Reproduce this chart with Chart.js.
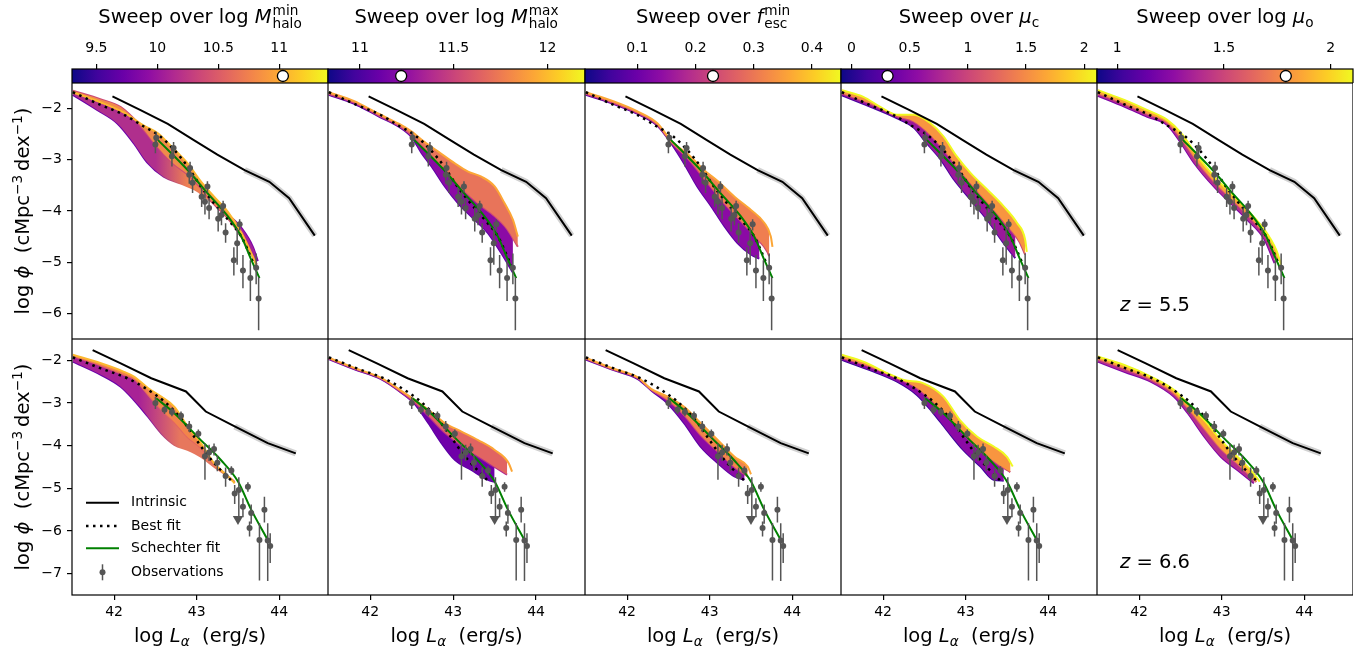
<!DOCTYPE html>
<html>
<head>
<meta charset="utf-8">
<script src="https://cdn.jsdelivr.net/npm/chart.js@4.4.0/dist/chart.umd.min.js"></script>
<style>
  body { margin: 0; width: 1368px; height: 657px; position: relative; overflow: hidden; background: #fff; font-family: 'DejaVu Sans', sans-serif; }
  canvas { position: absolute; }
  .txt { position: absolute; white-space: nowrap; transform: translate(-50%, -50%); color: #000; font-size: 19.5px; line-height: 1.2; }
  .rot { transform: translate(-50%, -50%) rotate(-90deg); }
  .stk { display: inline-flex; flex-direction: column; font-size: 0.7em; line-height: 0.95; vertical-align: middle; margin-left: 1px; }
  sub { font-size: 0.7em; vertical-align: -0.25em; line-height: 0; }
  sup { font-size: 0.7em; vertical-align: 0.55em; line-height: 0; }
</style>
</head>
<body>
<script>
// ---- axes ----
const lumTicks = [42, 43, 44];
const phiTicksTop = [-6, -5, -4, -3, -2];
const phiTicksBot = [-7, -6, -5, -4, -3, -2];

// ---- observations, z = 5.5 ----
const obsTopX = [42.50, 42.51, 42.70, 42.72, 42.91, 42.92, 42.95, 43.06, 43.10, 43.13, 43.15, 43.26, 43.30, 43.32, 43.35, 43.45, 43.49, 43.52, 43.56, 43.65, 43.72, 43.75];
const obsTopY = [-2.70, -2.57, -2.93, -2.77, -3.29, -3.16, -3.45, -3.72, -3.82, -3.52, -3.94, -4.15, -4.08, -3.90, -4.42, -4.96, -4.63, -4.26, -5.16, -5.31, -5.11, -5.71];
const obsTopErrLo = [0.17, 0.15, 0.2, 0.12, 0.18, 0.14, 0.2, 0.2, 0.25, 0.12, 0.22, 0.25, 0.2, 0.12, 0.2, 0.3, 0.42, 0.12, 0.35, 0.45, 0.32, 0.62];
const obsTopErrHi = [0.15, 0.12, 0.18, 0.12, 0.16, 0.12, 0.18, 0.17, 0.2, 0.1, 0.2, 0.22, 0.18, 0.1, 0.18, 0.25, 0.3, 0.1, 0.3, 0.35, 0.28, 0.42];

// ---- observations, z = 6.6 ----
const obsBotX = [42.50, 42.61, 42.70, 42.81, 42.91, 43.02, 43.10, 43.15, 43.21, 43.25, 43.35, 43.42, 43.46, 43.51, 43.56, 43.62, 43.64, 43.66, 43.76, 43.82, 43.86, 43.89];
const obsBotY = [-3.00, -3.16, -3.21, -3.30, -3.55, -3.72, -4.25, -4.16, -4.08, -4.40, -4.71, -4.58, -5.12, -5.04, -5.43, -4.96, -5.93, -5.58, -6.21, -5.50, -6.22, -6.35];
const obsBotErrLo = [0.14, 0.1, 0.1, 0.1, 0.13, 0.1, 0.55, 0.2, 0.15, 0.2, 0.25, 0.1, 0.25, 0.7, 0.25, 0.12, 0.2, 0.25, 0.95, 0.3, 0.95, 0.4];
const obsBotErrHi = [0.14, 0.1, 0.1, 0.1, 0.13, 0.1, 0.3, 0.18, 0.13, 0.18, 0.2, 0.1, 0.2, 0.3, 0.2, 0.1, 0.15, 0.2, 0.4, 0.3, 0.4, 0.3];
const upperLimBot = [[43.5, -5.72]];

// ---- model curves ----
const intrinsicTop = [[41.98, -1.76], [42.32, -2.03], [42.65, -2.30], [42.97, -2.62], [43.25, -2.90], [43.58, -3.20], [43.88, -3.43], [44.12, -3.75], [44.43, -4.48]];
const intrinsicBot = [[41.74, -1.76], [42.08, -2.07], [42.45, -2.42], [42.87, -2.73], [43.11, -3.20], [43.46, -3.55], [43.86, -3.94], [44.20, -4.18]];
const bestTop = [[41.5, -1.68], [41.84, -1.93], [42.12, -2.12], [42.36, -2.35], [42.53, -2.51], [42.73, -2.81], [42.89, -3.13], [43.05, -3.52], [43.21, -3.85], [43.38, -4.17], [43.54, -4.50], [43.66, -4.92], [43.70, -5.08]];
const bestBot = [[41.5, -1.93], [41.84, -2.19], [42.16, -2.42], [42.41, -2.69], [42.61, -2.97], [42.81, -3.36], [42.97, -3.79], [43.13, -4.22], [43.29, -4.57], [43.44, -4.86]];
const schechterTop = [[42.53, -2.61], [42.89, -3.20], [43.13, -3.65], [43.38, -4.11], [43.54, -4.50], [43.66, -4.95], [43.76, -5.31]];
const schechterBot = [[42.51, -2.89], [42.73, -3.24], [43.05, -3.87], [43.29, -4.33], [43.50, -4.84], [43.66, -5.50], [43.86, -6.21]];

// ---- parameter sweeps (lowest, middle, highest value), z = 5.5 ----
const mminTopLo = [[41.5, -1.73], [41.8, -2.03], [42.04, -2.29], [42.24, -2.68], [42.4, -3.05], [42.6, -3.33], [42.8, -3.46], [43.0, -3.6], [43.2, -3.85], [43.4, -4.1], [43.55, -4.35], [43.68, -4.7], [43.74, -4.98]];
const mminTopMid = [[41.5, -1.65], [41.84, -1.82], [42.08, -1.97], [42.3, -2.3], [42.5, -2.7], [42.7, -3.05], [42.9, -3.3], [43.05, -3.55], [43.2, -3.85], [43.38, -4.15], [43.54, -4.5], [43.68, -4.9], [43.73, -5.05]];
const mminTopHi = [[41.5, -1.68], [41.84, -1.88], [42.12, -2.08], [42.36, -2.33], [42.53, -2.48], [42.73, -2.8], [42.89, -3.07], [43.05, -3.42], [43.21, -3.72], [43.38, -4.02], [43.54, -4.42], [43.66, -4.82], [43.72, -5.05]];
const mmaxTopLo = [[41.5, -1.73], [41.8, -1.9], [42.1, -2.15], [42.35, -2.36], [42.5, -2.56], [42.62, -2.87], [42.74, -3.13], [42.9, -3.52], [43.06, -3.85], [43.22, -4.11], [43.42, -4.43], [43.58, -4.82], [43.72, -5.2]];
const mmaxTopMid = [[41.5, -1.71], [41.8, -1.88], [42.1, -2.13], [42.35, -2.34], [42.5, -2.52], [42.7, -2.85], [42.9, -3.2], [43.1, -3.55], [43.3, -3.85], [43.5, -4.1], [43.65, -4.35], [43.78, -4.7]];
const mmaxTopHi = [[41.5, -1.68], [41.8, -1.85], [42.1, -2.1], [42.35, -2.3], [42.5, -2.45], [42.62, -2.61], [42.82, -2.84], [43.02, -3.07], [43.18, -3.23], [43.34, -3.33], [43.5, -3.52], [43.62, -3.85], [43.72, -4.17], [43.78, -4.5]];
const fescTopLo = [[41.5, -1.73], [41.84, -1.91], [42.12, -2.1], [42.37, -2.34], [42.53, -2.67], [42.69, -3.07], [42.85, -3.52], [43.02, -3.91], [43.18, -4.3], [43.34, -4.63], [43.5, -4.85], [43.6, -4.93]];
const fescTopMid = [[41.5, -1.71], [41.84, -1.89], [42.12, -2.08], [42.37, -2.32], [42.53, -2.65], [42.75, -3.0], [42.95, -3.4], [43.15, -3.8], [43.35, -4.15], [43.55, -4.5], [43.7, -4.8], [43.72, -4.88]];
const fescTopHi = [[41.5, -1.68], [41.84, -1.86], [42.12, -2.05], [42.37, -2.29], [42.53, -2.62], [42.77, -2.94], [42.93, -3.2], [43.1, -3.42], [43.3, -3.72], [43.5, -3.98], [43.66, -4.23], [43.74, -4.5], [43.76, -4.7]];
const mucTopLo = [[41.5, -1.74], [41.84, -1.96], [42.17, -2.19], [42.37, -2.37], [42.53, -2.68], [42.7, -3.0], [42.86, -3.39], [43.06, -3.78], [43.26, -4.17], [43.46, -4.63], [43.6, -4.92]];
const mucTopMid = [[41.5, -1.7], [41.84, -1.9], [42.17, -2.15], [42.37, -2.25], [42.55, -2.48], [42.72, -2.78], [42.9, -3.15], [43.08, -3.5], [43.28, -3.87], [43.48, -4.25], [43.65, -4.6], [43.72, -4.85]];
const mucTopHi = [[41.5, -1.64], [41.76, -1.77], [41.96, -1.96], [42.17, -2.12], [42.37, -2.12], [42.57, -2.28], [42.73, -2.54], [42.89, -2.93], [43.06, -3.26], [43.26, -3.58], [43.46, -3.91], [43.62, -4.23], [43.72, -4.56], [43.74, -4.8]];
const muoTopLo = [[41.5, -1.75], [41.82, -1.96], [42.1, -2.16], [42.34, -2.32], [42.51, -2.68], [42.67, -3.07], [42.91, -3.53], [43.11, -3.85], [43.31, -4.17], [43.52, -4.56], [43.64, -5.02]];
const muoTopMid = [[41.5, -1.7], [41.82, -1.9], [42.1, -2.1], [42.34, -2.27], [42.51, -2.58], [42.69, -3.0], [42.91, -3.43], [43.11, -3.75], [43.31, -4.07], [43.52, -4.46], [43.68, -4.95]];
const muoTopHi = [[41.5, -1.64], [41.82, -1.83], [42.1, -2.03], [42.34, -2.22], [42.51, -2.48], [42.71, -2.94], [42.91, -3.33], [43.11, -3.65], [43.31, -3.98], [43.52, -4.37], [43.66, -4.76], [43.72, -5.05]];

// ---- parameter sweeps, z = 6.6 ----
const mminBotLo = [[41.5, -2.03], [41.84, -2.34], [42.08, -2.62], [42.24, -2.93], [42.41, -3.32], [42.57, -3.71], [42.73, -3.98], [42.89, -4.1], [43.05, -4.26], [43.21, -4.49], [43.38, -4.72], [43.46, -4.85]];
const mminBotMid = [[41.5, -1.9], [41.84, -2.12], [42.1, -2.32], [42.25, -2.45], [42.41, -2.8], [42.57, -3.15], [42.73, -3.45], [42.89, -3.8], [43.05, -4.05], [43.21, -4.42], [43.38, -4.72], [43.46, -4.87]];
const mminBotHi = [[41.5, -1.87], [41.84, -2.07], [42.12, -2.27], [42.24, -2.38], [42.41, -2.65], [42.57, -2.85], [42.73, -3.09], [42.89, -3.55], [43.05, -3.94], [43.21, -4.41], [43.38, -4.72], [43.46, -4.88]];
const mmaxBotLo = [[41.5, -1.97], [41.81, -2.21], [42.13, -2.44], [42.37, -2.75], [42.53, -3.01], [42.7, -3.47], [42.86, -3.94], [43.02, -4.33], [43.22, -4.57], [43.42, -4.8], [43.5, -4.85]];
const mmaxBotMid = [[41.5, -1.96], [41.81, -2.2], [42.13, -2.43], [42.37, -2.74], [42.53, -2.98], [42.7, -3.3], [42.9, -3.7], [43.1, -4.0], [43.3, -4.25], [43.5, -4.5], [43.65, -4.68]];
const mmaxBotHi = [[41.5, -1.94], [41.81, -2.18], [42.13, -2.41], [42.37, -2.71], [42.5, -2.88], [42.7, -3.16], [42.9, -3.47], [43.1, -3.67], [43.3, -3.87], [43.5, -4.1], [43.67, -4.41], [43.71, -4.61]];
const fescBotLo = [[41.5, -1.98], [41.81, -2.21], [42.13, -2.44], [42.3, -2.72], [42.49, -3.01], [42.69, -3.47], [42.89, -4.02], [43.1, -4.41], [43.3, -4.72], [43.42, -4.8]];
const fescBotMid = [[41.5, -1.96], [41.81, -2.2], [42.13, -2.42], [42.3, -2.7], [42.49, -2.93], [42.69, -3.28], [42.89, -3.75], [43.1, -4.14], [43.3, -4.5], [43.46, -4.72]];
const fescBotHi = [[41.5, -1.94], [41.81, -2.18], [42.13, -2.4], [42.29, -2.67], [42.49, -2.85], [42.69, -3.09], [42.89, -3.47], [43.1, -3.87], [43.3, -4.26], [43.46, -4.49], [43.5, -4.67]];
const mucBotLo = [[41.5, -1.99], [41.84, -2.23], [42.17, -2.5], [42.41, -2.81], [42.61, -3.24], [42.77, -3.63], [42.97, -4.1], [43.18, -4.49], [43.34, -4.8], [43.46, -4.82]];
const mucBotMid = [[41.5, -1.94], [41.84, -2.15], [42.17, -2.42], [42.41, -2.65], [42.61, -2.98], [42.8, -3.35], [43.0, -3.78], [43.2, -4.15], [43.4, -4.45], [43.54, -4.62]];
const mucBotHi = [[41.5, -1.87], [41.76, -2.03], [42.05, -2.3], [42.25, -2.46], [42.49, -2.54], [42.73, -2.85], [42.93, -3.4], [43.14, -3.79], [43.34, -4.02], [43.5, -4.26], [43.57, -4.49]];
const muoBotLo = [[41.5, -2.03], [41.82, -2.27], [42.14, -2.5], [42.42, -2.85], [42.59, -3.24], [42.79, -3.79], [42.99, -4.26], [43.19, -4.57], [43.39, -4.88]];
const muoBotMid = [[41.5, -1.97], [41.82, -2.19], [42.14, -2.44], [42.42, -2.77], [42.59, -3.12], [42.79, -3.6], [42.99, -4.07], [43.19, -4.42], [43.42, -4.85]];
const muoBotHi = [[41.5, -1.91], [41.82, -2.11], [42.14, -2.38], [42.42, -2.69], [42.59, -3.01], [42.79, -3.4], [42.99, -3.87], [43.19, -4.26], [43.35, -4.57], [43.46, -4.84]];

// ---- colour bars ----
const cbMin = [9.3, 10.83, 0.01, -0.09, 0.905];
const cbMax = [11.4, 12.2, 0.45, 2.11, 2.105];
const cbTicks = [[9.5, 10, 10.5, 11], [11, 11.5, 12], [0.1, 0.2, 0.3, 0.4], [0, 0.5, 1, 1.5, 2], [1, 1.5, 2]];
const cbBest = [11.03, 11.22, 0.23, 0.31, 1.79];
const plasma = ['#0d0887', '#41049d', '#6a00a8', '#8f0da4', '#b12a90', '#cc4778', '#e16462', '#f2844b', '#fca636', '#fcce25', '#f0f921'];

const legendLabels = ['Intrinsic', 'Best fit', 'Schechter fit', 'Observations'];

// layout in page pixels
const colLeft = [72, 328, 585, 841, 1097];
const colWidth = [256, 257, 256, 256, 256];
const rowTop = [83, 339];
const FONT = "'DejaVu Sans', sans-serif";
const GREY = '#555555';

// line colours [lo, mid, hi]; fill colours [lo-mid, mid-hi];
// optional loLine / loFill: colour stops along x for the lowest curve and its fill
const sweeps = [
  [{ lo: mminTopLo, mid: mminTopMid, hi: mminTopHi, line: ['#6a00a8', '#cc4778', '#fcb82f'], fill: ['#b02f8d', '#f08a4b'],
     loLine: [[42.5, '#6a00a8'], [42.85, '#ea7a56'], [43.3, '#ea7a56'], [43.5, '#7a02a8']],
     loFill: [[42.5, '#b02f8d'], [42.9, '#ef8350'], [43.3, '#ef8350'], [43.55, '#a3229a']] },
   { lo: mmaxTopLo, mid: mmaxTopMid, hi: mmaxTopHi, line: ['#5c01a6', '#cc4778', '#fca636'], fill: ['#8b0aa5', '#e8745a'] },
   { lo: fescTopLo, mid: fescTopMid, hi: fescTopHi, line: ['#5c01a6', '#cc4778', '#fca636'], fill: ['#8b0aa5', '#ef7e50'] },
   { lo: mucTopLo, mid: mucTopMid, hi: mucTopHi, line: ['#4b03a1', '#cc4778', '#f0f921'], fill: ['#9a179b', '#f89540'] },
   { lo: muoTopLo, mid: muoTopMid, hi: muoTopHi, line: ['#7e03a8', '#e16462', '#f0f921'], fill: ['#b52f8c', '#fca636'] }],
  [{ lo: mminBotLo, mid: mminBotMid, hi: mminBotHi, line: ['#6a00a8', '#e16462', '#fcb82f'], fill: ['#a82296', '#f2844b'],
     loLine: [[42.35, '#6a00a8'], [42.8, '#e4765f']],
     loFill: [[42.3, '#a82296'], [42.8, '#e7775d']] },
   { lo: mmaxBotLo, mid: mmaxBotMid, hi: mmaxBotHi, line: ['#5c01a6', '#b12a90', '#fca636'], fill: ['#6f00a8', '#e16462'] },
   { lo: fescBotLo, mid: fescBotMid, hi: fescBotHi, line: ['#5c01a6', '#cc4778', '#fca636'], fill: ['#8b0aa5', '#f2844b'] },
   { lo: mucBotLo, mid: mucBotMid, hi: mucBotHi, line: ['#3a049a', '#cc4778', '#f0f921'], fill: ['#8b0aa5', '#f89540'] },
   { lo: muoBotLo, mid: muoBotMid, hi: muoBotHi, line: ['#7e03a8', '#e16462', '#f0f921'], fill: ['#b52f8c', '#fca636'] }]
];

const pts = arr => arr.map(p => ({ x: p[0], y: p[1] }));
const minus = v => String(v).replace('-', '\u2212');

// horizontal gradient whose stops sit at given luminosities
function alongX(stops) {
  return ctx => {
    const chart = ctx.chart, xs = chart.scales.x;
    if (!xs || !chart.chartArea) return stops[0][1];
    const x0 = xs.getPixelForValue(xs.min), x1 = xs.getPixelForValue(xs.max);
    const g = chart.ctx.createLinearGradient(x0, 0, x1, 0);
    stops.forEach(s => g.addColorStop((xs.getPixelForValue(s[0]) - x0) / (x1 - x0), s[1]));
    return g;
  };
}

function errorBars(xs, ys, lo, hi) {
  const out = [];
  xs.forEach((x, i) => {
    out.push({ x: x, y: ys[i] - lo[i] }, { x: x, y: ys[i] + hi[i] }, { x: x, y: null });
  });
  return out;
}

const framePlugin = {
  id: 'frame',
  afterDraw(chart) {
    const a = chart.chartArea, ctx = chart.ctx;
    ctx.save();
    ctx.strokeStyle = '#000';
    ctx.lineWidth = 1.2;
    ctx.strokeRect(a.left, a.top, a.right - a.left, a.bottom - a.top);
    ctx.restore();
  }
};

const legendPlugin = {
  id: 'legendLines',
  afterDraw(chart) {
    const ctx = chart.ctx;
    const rows = [163.7, 187, 209.3, 233.3];
    ctx.save();
    ctx.lineWidth = 2;
    ctx.strokeStyle = '#000';
    ctx.beginPath(); ctx.moveTo(86, rows[0]); ctx.lineTo(119, rows[0]); ctx.stroke();
    ctx.setLineDash([2.5, 4.5]); ctx.lineWidth = 2.5;
    ctx.beginPath(); ctx.moveTo(86, rows[1]); ctx.lineTo(119, rows[1]); ctx.stroke();
    ctx.setLineDash([]); ctx.lineWidth = 2; ctx.strokeStyle = '#008000';
    ctx.beginPath(); ctx.moveTo(86, rows[2]); ctx.lineTo(119, rows[2]); ctx.stroke();
    ctx.strokeStyle = GREY; ctx.fillStyle = GREY; ctx.lineWidth = 1.5;
    ctx.beginPath(); ctx.moveTo(102.5, rows[3] - 8); ctx.lineTo(102.5, rows[3] + 8); ctx.stroke();
    ctx.beginPath(); ctx.arc(102.5, rows[3], 3, 0, Math.PI * 2); ctx.fill();
    ctx.fillStyle = '#000';
    ctx.font = '14px ' + FONT;
    ctx.textBaseline = 'middle';
    legendLabels.forEach((t, i) => ctx.fillText(t, 131, rows[i]));
    ctx.restore();
  }
};

function makePanel(row, col) {
  const wy = col === 0 ? 72 : 0;
  const hx = row === 1 ? 62 : 0;
  const w = colWidth[col];
  const cv = document.createElement('canvas');
  cv.width = w + wy;
  cv.height = 256 + hx;
  cv.style.left = (colLeft[col] - wy) + 'px';
  cv.style.top = rowTop[row] + 'px';
  document.body.appendChild(cv);

  const top = row === 0;
  const s = sweeps[row][col];
  const oX = top ? obsTopX : obsBotX, oY = top ? obsTopY : obsBotY;
  const oLo = top ? obsTopErrLo : obsBotErrLo, oHi = top ? obsTopErrHi : obsBotErrHi;
  const intr = top ? intrinsicTop : intrinsicBot;

  const datasets = [
    { data: oX.map((x, i) => ({ x: x, y: oY[i] })), showLine: false, pointRadius: 3, pointBackgroundColor: GREY, pointBorderWidth: 0 },
    { data: top ? [] : pts(upperLimBot), showLine: false, pointStyle: 'triangle', rotation: 180, pointRadius: 6, pointBackgroundColor: GREY, pointBorderWidth: 0 },
    { data: errorBars(oX, oY, oLo, oHi), borderColor: GREY, borderWidth: 1.5, spanGaps: false },
    { data: pts(top ? schechterTop : schechterBot), borderColor: '#008000', borderWidth: 2, cubicInterpolationMode: 'monotone' },
    { data: pts(top ? bestTop : bestBot), borderColor: '#000', borderWidth: 2.5, borderDash: [2.5, 4.5], cubicInterpolationMode: 'monotone' },
    { data: pts(intr), borderColor: '#000', borderWidth: 2 },
    { data: pts(intr.filter(p => p[0] >= 43.4)), borderColor: 'rgba(0,0,0,0.18)', borderWidth: 6 },
    { data: pts(s.hi), borderColor: s.line[2], backgroundColor: s.fill[1], fill: '+1', borderWidth: 2, cubicInterpolationMode: 'monotone' },
    { data: pts(s.mid), borderColor: s.line[1], backgroundColor: s.loFill ? alongX(s.loFill) : s.fill[0], fill: '+1', borderWidth: 2, cubicInterpolationMode: 'monotone' },
    { data: pts(s.lo), borderColor: s.loLine ? alongX(s.loLine) : s.line[0], borderWidth: 2, cubicInterpolationMode: 'monotone' }
  ];

  const phiTicks = top ? phiTicksTop : phiTicksBot;
  new Chart(cv, {
    type: 'line',
    data: { datasets: datasets },
    options: {
      responsive: false,
      animation: false,
      events: [],
      layout: { padding: 0, autoPadding: false },
      elements: { point: { radius: 0 }, line: { fill: false } },
      plugins: { legend: { display: false }, tooltip: { enabled: false } },
      scales: {
        x: {
          type: 'linear', min: 41.49, max: 44.59, display: !top,
          afterBuildTicks: sc => { sc.ticks = lumTicks.map(v => ({ value: v })); },
          afterFit: sc => { sc.height = hx; sc.paddingLeft = 0; sc.paddingRight = 0; },
          grid: { drawOnChartArea: false, tickLength: 5, color: '#000', lineWidth: 1.2 },
          border: { display: false },
          ticks: { color: '#000', font: { family: FONT, size: 14 }, padding: 4, maxRotation: 0, callback: v => minus(v) }
        },
        y: {
          type: 'linear', min: top ? -6.5 : -7.5, max: -1.5, display: col === 0,
          afterBuildTicks: sc => { sc.ticks = phiTicks.map(v => ({ value: v })); },
          afterFit: sc => { sc.width = wy; sc.paddingTop = 0; sc.paddingBottom = 0; },
          grid: { drawOnChartArea: false, tickLength: 5, color: '#000', lineWidth: 1.2 },
          border: { display: false },
          ticks: { color: '#000', font: { family: FONT, size: 14 }, padding: 5, callback: v => minus(v) }
        }
      }
    },
    plugins: (row === 1 && col === 0) ? [framePlugin, legendPlugin] : [framePlugin]
  });
}

const cbPlugin = {
  id: 'cbar',
  beforeDatasetsDraw(chart) {
    const a = chart.chartArea, ctx = chart.ctx;
    const g = ctx.createLinearGradient(a.left, 0, a.right, 0);
    plasma.forEach((c, i) => g.addColorStop(i / (plasma.length - 1), c));
    ctx.save();
    ctx.fillStyle = g;
    ctx.fillRect(a.left, a.top, a.right - a.left, a.bottom - a.top);
    ctx.restore();
  }
};

function makeColorbar(col) {
  const pad = 20;
  const cv = document.createElement('canvas');
  cv.width = colWidth[col] + 2 * pad;
  cv.height = 53;
  cv.style.left = (colLeft[col] - pad) + 'px';
  cv.style.top = '30px';
  document.body.appendChild(cv);
  new Chart(cv, {
    type: 'scatter',
    data: { datasets: [{ data: [{ x: cbBest[col], y: 0.5 }], pointRadius: 5.5, pointBackgroundColor: '#fff', pointBorderColor: '#000', pointBorderWidth: 1.3, clip: false }] },
    options: {
      responsive: false,
      animation: false,
      events: [],
      layout: { padding: { left: pad, right: pad, top: 0, bottom: 0 }, autoPadding: false },
      plugins: { legend: { display: false }, tooltip: { enabled: false } },
      scales: {
        x: {
          type: 'linear', position: 'top', min: cbMin[col], max: cbMax[col],
          afterBuildTicks: sc => { sc.ticks = cbTicks[col].map(v => ({ value: v })); },
          afterFit: sc => { sc.height = 39; sc.paddingLeft = 0; sc.paddingRight = 0; },
          grid: { drawOnChartArea: false, tickLength: 5, color: '#000', lineWidth: 1.2 },
          border: { display: false },
          ticks: { color: '#000', font: { family: FONT, size: 14 }, padding: 7, maxRotation: 0, callback: v => String(v) }
        },
        y: { min: 0, max: 1, display: false }
      }
    },
    plugins: [cbPlugin, framePlugin]
  });
}

for (let c = 0; c < 5; c++) {
  makePanel(0, c);
  makePanel(1, c);
  makeColorbar(c);
}

// ---- text with math formatting ----
const titles = [
  'Sweep over log <i>M</i><span class="stk"><span>min</span><span>halo</span></span>',
  'Sweep over log <i>M</i><span class="stk"><span>max</span><span>halo</span></span>',
  'Sweep over <i>f</i><span class="stk"><span>min</span><span>esc</span></span>',
  'Sweep over <i>μ</i><sub>c</sub>',
  'Sweep over log <i>μ</i><sub>o</sub>'
];
function addText(html, x, y, cls) {
  const d = document.createElement('div');
  d.className = 'txt' + (cls ? ' ' + cls : '');
  d.innerHTML = html;
  d.style.left = x + 'px';
  d.style.top = y + 'px';
  document.body.appendChild(d);
}
titles.forEach((t, i) => addText(t, colLeft[i] + colWidth[i] / 2, 17));
for (let c = 0; c < 5; c++) {
  addText('log <i>L</i><sub><i>α</i></sub>&nbsp; (erg/s)', colLeft[c] + colWidth[c] / 2, 636);
}
const yLabel = 'log <i>ϕ</i>&nbsp; (cMpc<sup>−3</sup>&#8201;dex<sup>−1</sup>)';
addText(yLabel, 23, 211, 'rot');
addText(yLabel, 23, 467, 'rot');
addText('<i>z</i> = 5.5', 1155, 305);
addText('<i>z</i> = 6.6', 1155, 562);
</script>
</body>
</html>
